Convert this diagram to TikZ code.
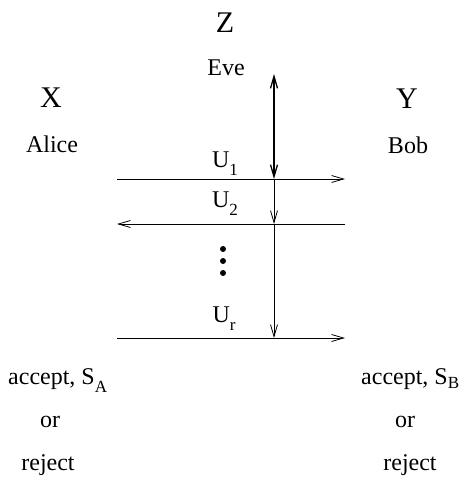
\documentclass[tikz,border=0pt]{standalone}
\usepackage{fontspec}
\setmainfont{Liberation Serif}
\usetikzlibrary{arrows.meta}
\newcommand\lowsub[2][0.36em]{\raisebox{-#1}{\fontsize{17}{17}\selectfont #2}}
\begin{document}
\begin{tikzpicture}[x=1pt,y=-1pt,
  lbl/.style={inner sep=0pt,anchor=base},
  big/.style={lbl,font=\fontsize{30}{32}\selectfont},
  mid/.style={lbl,font=\fontsize{24}{26}\selectfont},
  ln/.style={line width=0.8pt,-{Straight Barb[length=12pt,width=7pt]}},
  dot/.style={circle,fill=black,inner sep=0pt,minimum size=6pt}]
\useasboundingbox (0,0) rectangle (459,477);
\node[big] (Z) at (225,32) {Z};
\node[big] (X) at (51,107) {X};
\node[big] (Y) at (407,108) {Y};
\node[mid] (eve) at (226,75) {Eve};
\node[mid] (alice) at (52,152) {Alice};
\node[mid] (bob) at (408,153) {Bob};
\coordinate (l1) at (117,179); \coordinate (r1) at (345,179);
\coordinate (l2) at (117,224); \coordinate (r2) at (345,224);
\coordinate (lr) at (117,338); \coordinate (rr) at (345,338);
\coordinate (vt) at (274,74); \coordinate (v1) at (274,179);
\coordinate (v2) at (274,224); \coordinate (vr) at (274,338);
\draw[ln] (l1) -- (r1);
\draw[ln] (r2) -- (l2);
\draw[ln] (lr) -- (rr);
\draw[ln,{Straight Barb[length=12pt,width=7pt]}-{Straight Barb[length=12pt,width=7pt]},line width=1.3pt] (v1) -- (vt);
\draw[ln] (v1) -- (v2);
\draw[ln] (v2) -- (vr);
\node[mid] (u1) at (225,167) {U\lowsub{1}};
\node[mid] (u2) at (225,207) {U\lowsub{2}};
\node[mid] (ur) at (224,322) {U\lowsub{r}};
\node[dot] (d1) at (223,249) {};
\node[dot] (d2) at (223,261) {};
\node[dot] (d3) at (223,273) {};
\node[mid,anchor=base west] (aa) at (8,384) {accept, S\lowsub{A}};
\node[mid] (ao) at (50,427) {or};
\node[mid] (ar) at (48,470) {reject};
\node[mid,anchor=base west] (ba) at (361,384) {accept, S\lowsub[0.2em]{B}};
\node[mid] (bo) at (405,427) {or};
\node[mid] (br) at (410,470) {reject};
\end{tikzpicture}
\end{document}
